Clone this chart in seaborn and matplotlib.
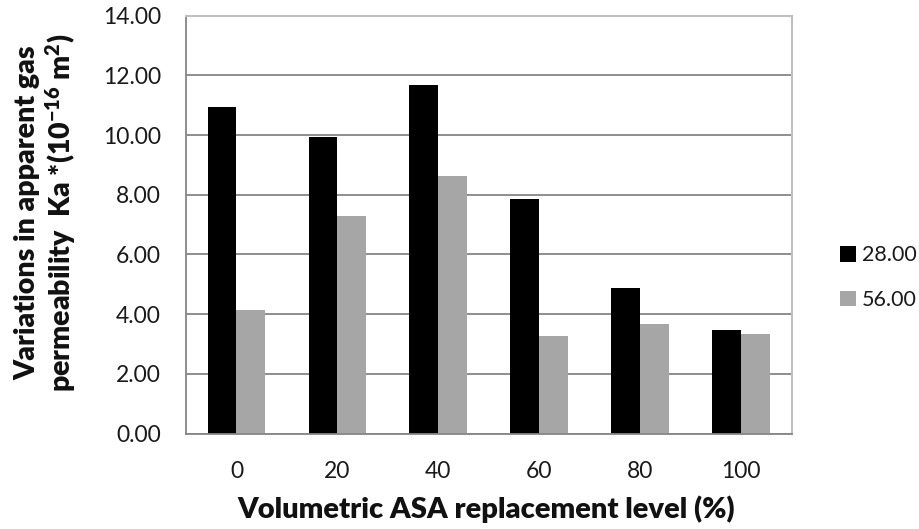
import matplotlib
matplotlib.use("Agg")
import matplotlib.pyplot as plt
import seaborn as sns
import pandas as pd
from matplotlib.ticker import FormatStrFormatter

# Replacement levels (%) and permeability at two curing ages (days)
levels = ["0", "20", "40", "60", "80", "100"]
ages = ["28.00", "56.00"]
ka_28 = [10.93, 9.94, 11.69, 7.85, 4.89, 3.48]
ka_56 = [4.14, 7.30, 8.64, 3.27, 3.67, 3.33]
y_ticks = [0, 2, 4, 6, 8, 10, 12, 14]

df = pd.DataFrame({
    "level": levels * 2,
    "age": [ages[0]] * len(levels) + [ages[1]] * len(levels),
    "ka": ka_28 + ka_56,
})

sns.set_theme(style="white")
plt.rcParams["font.family"] = ["Lato", "DejaVu Sans"]
plt.rcParams["mathtext.default"] = "regular"

fig = plt.figure(figsize=(9.19, 5.29), dpi=100)
ax = fig.add_axes([0.2024, 0.1805, 0.8613 - 0.2024, 0.9703 - 0.1805])

sns.barplot(
    data=df, x="level", y="ka", hue="age", order=levels, hue_order=ages,
    palette=["#000000", "#a6a6a6"], width=0.572, gap=0, linewidth=0,
    saturation=1, ax=ax, legend=True,
)

ax.set_ylim(0, 14)
ax.set_yticks(y_ticks)
ax.yaxis.set_major_formatter(FormatStrFormatter("%.2f"))
ax.set_xlim(-0.5, len(levels) - 0.5)
ax.yaxis.grid(True, color="#868686", linewidth=1.3)
ax.set_axisbelow(True)

for side in ["left", "bottom"]:
    ax.spines[side].set_color("#868686")
    ax.spines[side].set_linewidth(1.3)
for side in ["top", "right"]:
    ax.spines[side].set_color("#c0c0c0")
    ax.spines[side].set_linewidth(1.5)

ax.tick_params(axis="both", which="major", direction="out", length=5,
               width=1.0, color="#868686", labelsize=16.5, labelcolor="#1a1a1a")
ax.tick_params(axis="y", pad=13)
ax.tick_params(axis="x", pad=15)
ax.set_xlabel("")
ax.set_ylabel("")

fig.text(0.529, 0.038, "Volumetric ASA replacement level (%)", ha="center",
         va="center", fontsize=21, fontweight="heavy", color="#111111")
fig.text(0.050, 0.597,
         "Variations in apparent gas\npermeability  Ka *(10$^{-16}$ m$^{2}$)",
         rotation=90, ha="center", va="center", multialignment="center",
         fontsize=20.5, fontweight="heavy", color="#111111", linespacing=1.1)

handles, labels = ax.get_legend_handles_labels()
ax.get_legend().remove()
fig.legend(handles, labels, loc="center left", bbox_to_anchor=(0.893, 0.475),
           frameon=False, fontsize=15.5, handlelength=0.75, handleheight=0.75,
           handletextpad=0.25, labelspacing=1.15, labelcolor="#1a1a1a")

fig.savefig("out.png", dpi=100)
